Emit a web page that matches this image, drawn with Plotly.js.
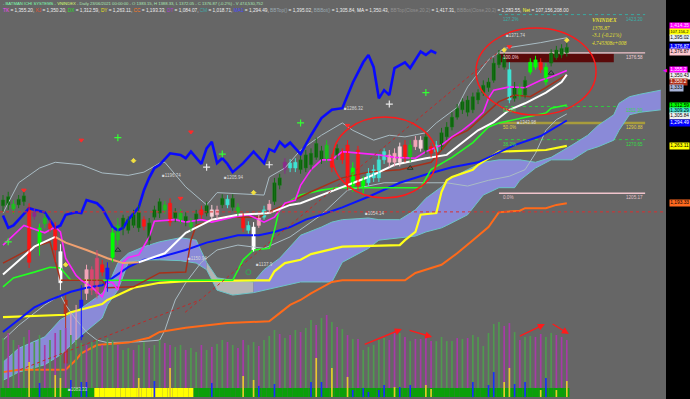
<!DOCTYPE html>
<html><head><meta charset="utf-8">
<script src="https://cdn.plot.ly/plotly-3.0.1.min.js"></script>
<style>html,body{margin:0;padding:0;background:#000;overflow:hidden}#chart{width:690px;height:399px}</style>
</head><body><div id="chart"></div>
<script>
// ---------------- DATA ----------------
const open = [1190,1191,1186,1191,1195,1188,1182,1142,1168,1168,
1165,1096,1075,1041,1030,1030,1083,1112,1083,1118,
1090,1127,1148,1163,1160,1166,1163,1173,1148,1176,
1181,1185,1193,1175,1173,1170,1164,1173,1185,1181,
1185,1185,1191,1191,1188,1182,1175,1160,1136,1175,
1176,1185,1195,1215,1243,1236,1236,1234,1236,1240,
1249,1246,1248,1248,1252,1256,1264,1214,1258,1212,
1218,1224,1224,1246,1252,1243,1243,1264,1249,1270,
1260,1258,1262,1256,1262,1274,1286,1298,1307,1304,
1307,1319,1328,1334,1343,1362,1359,1356,1321,1323,
1325,1353,1359,1365,1341,1364,1371,1374,1383.15];
const high = [1203,1207,1197,1203,1209,1193,1187,1168,1180,1173,
1170,1143,1081,1060,1069,1093,1118,1116,1136,1124,
1121,1163,1175,1179,1177,1185,1191,1177,1175,1190,
1199,1196,1199,1187,1186,1182,1175,1185,1190,1195,
1191,1190,1204,1203,1204,1193,1181,1171,1170,1180,
1190,1197,1224,1229,1248,1247,1248,1251,1258,1260,
1273,1263,1270,1253,1265,1260,1270,1243,1263,1226,
1236,1240,1252,1260,1258,1260,1267,1270,1270,1275,
1275,1280,1267,1269,1285,1292,1304,1314,1321,1324,
1328,1332,1343,1346,1370,1380,1376,1365,1341,1339,
1348,1370,1373,1370,1364,1381,1385,1387,1388.33];
const low = [1182,1185,1180,1187,1190,1114,1173,1129,1163,1158,
1121,1087,992,1032,1020,1026,1075,1081,1077,1104,
1085,1121,1142,1154,1156,1163,1158,1160,1142,1173,
1175,1180,1165,1170,1168,1165,1159,1168,1174,1177,
1173,1174,1187,1187,1184,1177,1158,1156,1134,1163,
1173,1180,1191,1210,1229,1231,1231,1229,1231,1234,
1246,1241,1243,1231,1246,1241,1209,1207,1209,1204,
1214,1219,1219,1241,1237,1238,1238,1243,1243,1258,
1256,1253,1249,1251,1258,1270,1282,1295,1302,1299,
1303,1314,1324,1329,1340,1358,1356,1315,1317,1319,
1321,1350,1356,1352,1337,1360,1368,1370,1372.05];
const close = [1197,1201,1192,1198,1202,1121,1177,1163,1175,1162,
1136,1134,998,1053,1059,1075,1112,1087,1126,1109,
1114,1157,1166,1175,1173,1179,1182,1165,1169,1185,
1195,1191,1170,1182,1181,1177,1170,1180,1179,1190,
1177,1179,1199,1198,1199,1188,1163,1166,1164,1166,
1185,1192,1218,1224,1234,1242,1243,1246,1252,1254,
1266,1257,1264,1237,1260,1246,1215,1236,1215,1221,
1230,1234,1246,1256,1243,1254,1262,1248,1264,1262,
1270,1274,1254,1264,1279,1286,1298,1309,1317,1319,
1323,1328,1337,1341,1364,1374,1371,1319,1335,1334,
1343,1365,1368,1356,1359,1376,1380,1382,1376.87];
// candle colour state per bar (system signal)
const candleState = ['D','D','G','D','D','R','M','B','G','R',
'R','W','K','P','P','U','P','S','S','R',
'U','B','G','D','D','D','D','R','D','D',
'D','G','R','D','G','D','G','D','R','D',
'L','P','D','C','D','G','R','C','W','P',
'C','P','D','D','M','C','C','D','D','D',
'D','D','G','R','D','R','R','B','R','B',
'C','C','C','C','P','P','L','R','G','P',
'L','D','R','C','D','D','D','D','D','D',
'D','D','D','D','D','D','D','C','D','G',
'D','B','B','R','B','D','D','D','D'];

// volume (millions)
const volume = [491,533,475,433,500,558,458,516,433,475,
533,558,575,516,475,450,433,458,475,433,
491,475,433,392,408,392,433,458,408,433,
475,450,433,417,433,392,408,375,433,392,
417,442,475,458,433,408,475,433,458,425,
475,508,558,525,491,516,558,541,575,641,
600,658,683,625,583,566,516,483,483,392,
417,433,475,491,475,533,533,500,466,483,
483,491,466,466,500,466,466,491,483,491,
516,500,425,533,608,625,591,616,541,475,
500,508,500,525,500,533,516,500,475];
const volumeState = ['g','m','g','m','g','m','g','g','m','g',
'm','g','m','g','g','g','m','g','g','m',
'g','g','m','g','g','m','g','g','m','g',
'g','m','m','g','g','m','g','g','m','g',
'm','g','g','m','g','m','m','g','g','m',
'g','g','g','m','g','m','g','m','g','g',
'm','g','m','g','m','g','m','g','m','g',
'g','g','g','g','m','m','g','m','g','m',
'm','m','m','g','g','g','g','m','g','m',
'g','g','g','g','g','g','m','m','g','m',
'g','g','m','m','g','g','m','m','m'];
const ribbonState = ['G','G','G','G','G','G','G','G','G','G',
'G','G','G','G','G','G','G','G','Y','Y',
'Y','Y','Y','Y','Y','Y','Y','Y','Y','Y',
'Y','Y','Y','Y','Y','Y','Y','G','G','G',
'G','G','G','G','G','G','G','G','G','G',
'G','G','G','G','G','G','G','G','G','G',
'G','G','G','G','G','G','G','G','G','G',
'G','G','G','G','G','G','G','G','G','G',
'G','G','G','G','G','G','G','G','G','G',
'G','G','G','G','G','G','G','G','G','G',
'G','G','G','G','G','G','G','G','G'];
const yellowIdx = [5,10,11,26,32,46,48,60,63,66,75,81,82,96,97,103,106,108];
const yellowVal = [292,183,158,158,242,175,142,325,242,167,83,100,67,125,242,58,58,133];
const blueIdx = [7,13,15,16,29,40,49,52,59,61,67,69,70,72,73,76,78,90,93,94,98,100,104];
const blueVal = [117,142,125,125,133,117,92,108,125,125,58,75,42,58,100,83,100,125,100,208,108,125,158];

// Ichimoku cloud (projected forward)
const cloudX = [0,3,8,11,15,19,20,22,24,27,30,34,37,39,41,44,48,50,53,57,61,63,65,70,72,76,79,81,84,85,89,92,95,98,99,102,105,109,112,114,117,118,120,122,126];
const cloudUpper = [999,1016,1030,1051,1065,1083,1091,1120,1132,1140,1146,1151,1148,1121,1102,1099,1097,1112,1126,1154,1164,1170,1173,1175,1173,1173,1185,1199,1213,1221,1234,1243,1246,1246,1246,1243,1249,1264,1276,1288,1301,1315,1323,1326,1331];
const cloudLower = [977,987,996,1008,1032,1053,1069,1087,1121,1124,1124,1123,1120,1112,1087,1081,1084,1087,1091,1097,1097,1097,1121,1138,1148,1151,1153,1158,1163,1166,1179,1203,1212,1212,1221,1236,1246,1246,1258,1262,1270,1282,1301,1304,1307];

// indicator lines
const chikouX = [0,1,2,5,6,8,10,11,12,14,15,16,18,19,21,22,23,24,26,27,28,29,30,32,34,35,36,38,39,40,41,42,43,44,46,48,50,51,52,53,54,55,57,59,61,63,65,67,69,70,71,72,73,74,75,77,78,80,81,82,83];
const chikouY = [1178,1163,1166,1187,1185,1182,1163,1166,1179,1182,1181,1197,1193,1187,1164,1160,1163,1173,1188,1209,1224,1236,1240,1254,1252,1248,1256,1241,1260,1268,1242,1248,1241,1231,1242,1256,1242,1259,1256,1268,1262,1267,1253,1276,1297,1307,1309,1340,1365,1374,1359,1321,1331,1325,1358,1365,1358,1378,1374,1379,1376];
const maX = [0,6,10,12,16,20,23,26,31,35,40,45,51,55,57,61,65,70,75,81,85,88,91,94,97,100,104,107,108];
const maY = [1106,1140,1152,1145,1136,1126,1120,1121,1132,1157,1173,1179,1181,1191,1193,1203,1213,1225,1240,1248,1252,1267,1282,1292,1307,1315,1328,1341,1350];
const maFallingFrom = 10, maFallingTo = 26;
const tkX = [0,4,8,10,11,12,14,15,17,19,20,21,22,23,24,26,28,29,33,35,38,40,44,47,50,52,54,56,57,59,61,63,65,68,72,75,79,81,84,86,88,90,92,93,94,97,100,103,105,108];
const tkY = [1142,1166,1157,1164,1158,1126,1105,1099,1091,1079,1097,1096,1087,1121,1127,1130,1152,1171,1173,1170,1173,1170,1176,1179,1170,1176,1193,1197,1215,1234,1246,1246,1256,1254,1252,1249,1248,1256,1264,1274,1282,1292,1304,1321,1331,1335,1334,1343,1347,1355];
const kjX = [0,6,9,10,11,19,20,25,30,35,36,37,42,49,55,59,65,70,76,82,86,89,95,98,101,104,108];
const kjY = [1120,1140,1146,1121,1099,1099,1090,1091,1108,1109,1148,1166,1176,1176,1195,1207,1224,1231,1234,1243,1273,1282,1317,1325,1323,1334,1350];
const dxX = [0,2,6,9,11,13,44,46,48,51,52,53,57,61,64,80,82,86,90,93,95,102,104,105,108];
const dxY = [1091,1102,1109,1115,1114,1099,1099,1124,1136,1138,1160,1188,1203,1209,1212,1212,1234,1249,1267,1286,1291,1301,1303,1309,1313];
const dyX = [0,12,13,19,20,25,30,35,51,52,54,57,59,65,76,77,79,80,83,84,85,86,90,91,94,95,104,108];
const dyY = [1054,1057,1060,1070,1075,1090,1096,1098,1099,1110,1120,1124,1131,1140,1142,1148,1158,1179,1181,1207,1221,1225,1234,1240,1252,1256,1258,1263];
const ccX = [0,3,12,14,15,18,24,28,30,35,43,47,51,53,55,57,59,63,65,77,79,84,87,90,93,95,99,100,104,106,108];
const ccY = [987,990,990,1002,1010,1020,1023,1029,1036,1041,1047,1048,1049,1059,1069,1075,1083,1097,1099,1099,1108,1118,1132,1148,1164,1182,1184,1187,1187,1191,1193];
const ma1X = [0,6,9,13,16,19,21,24,27,30,35,39,43,45,49,52,55,58,61,65,70,76,81,86,91,98,103,108];
const ma1Y = [1036,1066,1075,1085,1090,1093,1102,1115,1124,1127,1136,1145,1151,1154,1154,1158,1164,1173,1179,1188,1201,1218,1228,1237,1243,1264,1275,1294];
const bbTopX = [0,3,7,10,15,19,24,27,30,31,35,39,41,50,51,54,57,61,65,67,71,74,77,81,83,87,89,93,96,103,108];
const bbTopY = [1181,1218,1236,1243,1240,1230,1227,1231,1242,1243,1213,1191,1206,1203,1225,1236,1258,1276,1291,1282,1270,1276,1274,1279,1291,1310,1335,1368,1382,1389,1395];
const bbBotX = [0,3,8,11,12,14,16,18,20,26,30,31,32,33,35,38,41,45,50,55,61,66,73,79,85,89,93,97,100,102,104,106,108];
const bbBotY = [1026,1044,1069,1081,1069,1051,1036,1026,1023,1024,1026,1038,1057,1075,1096,1121,1136,1142,1138,1152,1179,1209,1218,1218,1218,1214,1221,1226,1234,1254,1282,1295,1302];

// levels
const refLevel = 1182.5;
const fibLow = 1205.17, fibHigh = 1376.58, fibStart = 95, fibEnd = 123;
const fibRatios = [0, 0.382, 0.5, 0.618, 1, 1.272];
const fibNames = ['0.0%','38.2%','50.0%','61.8%','100.0%','127.2%'];
const zoneStart = 95, zoneEnd = 117, zoneTop = 1375.5, zoneBottom = 1365;
const trendA = {x:[3.3,37.7], y:[990,1075]};
const trendB = {x:[34.9,94.6], y:[1060,1376]};

// markers
const greenPlusX=[1,22,42,57,81], greenPlusY=[1146,1273,1253,1291,1328];
const whitePlusX=[39,51,74], whitePlusY=[1237,1240,1314];
const redMarkX=[4,15,36,34,66,97], redMarkY=[1209,1270,1280,1199,1288,1384];
const yellowMarkX=[12,25,48,96,108], yellowMarkY=[1118,1245,1206,1380,1392];
const triMarkX=[22,78,105], triMarkY=[1136,1236,1352];
const ringMarkX=[47], ringMarkY=[1109];
const pointLabelX=[30,42,65,35,48,69,98,96,12];
const pointLabelY=[1227,1224,1309,1126,1118,1181,1291,1398,966];
const pointLabelText=['1196.74','1205.94','1286.32','1150.94','1137.9','1054.14','1343.98','1371.74','1083.33'];

// right axis value boxes
const boxLabels=['1,414.35','107,156,2','1,395.02','1,376.87','1,376.87','1,355.2','1,350.43','1,350.2','1,333','1,312.59','1,309.29','1,305.84','1,294.49','1,263.11','1,193.33'];

// ---------------- STYLE / BUILD ----------------
const FONT = 'Liberation Sans, Arial, sans-serif';
const N = open.length;
const idx = open.map((_, i) => i);
const candleColors = {D:'#0a5c0a',G:'#1fbf1f',B:'#00ff00',R:'#ff1515',P:'#f3a5b8',W:'#ffffff',C:'#3fe3d3',U:'#1515ff',K:'#b8321a',M:'#8c2a8c',S:'#d84870',L:'#f7d3da'};
const traces = [];

// cloud
function cloudSeg(lo, hi){
  const xs=[],u=[],l=[];
  cloudX.forEach((x,k)=>{ if(x>=lo && x<=hi){ xs.push(x); u.push(cloudUpper[k]); l.push(cloudLower[k]); } });
  return {xs,u,l};
}
[[0,39,'#8a8ad8'],[39,48,'#b4b4b4'],[48,999,'#8a8ad8']].forEach(([lo,hi,col])=>{
  const s = cloudSeg(lo,hi);
  traces.push({type:'scatter',mode:'lines',x:s.xs,y:s.l,line:{width:0},hoverinfo:'skip'});
  traces.push({type:'scatter',mode:'lines',x:s.xs,y:s.u,line:{width:0},fill:'tonexty',fillcolor:col,hoverinfo:'skip'});
});
traces.push({type:'scatter',mode:'lines',x:cloudX,y:cloudUpper,line:{color:'#6cc4c8',width:1}});
traces.push({type:'scatter',mode:'lines',x:cloudX,y:cloudLower,line:{color:'#6cc4c8',width:1}});

// volume
traces.push({type:'bar',x:idx,y:volume,yaxis:'y2',width:0.32,
  marker:{color:volumeState.map(s=>s==='g'?'#4f9a4f':'#a83aa8'),line:{width:0}}});
traces.push({type:'bar',x:idx,y:idx.map(()=>75),base:0,yaxis:'y2',width:1,
  marker:{color:ribbonState.map(s=>s==='G'?'#0aa00a':'#ffff00'),line:{width:0}}});
traces.push({type:'bar',x:yellowIdx,y:yellowVal,yaxis:'y2',width:0.32,marker:{color:'#e6cc2a',line:{width:0}}});
traces.push({type:'bar',x:blueIdx,y:blueVal,yaxis:'y2',width:0.32,marker:{color:'#1a2cff',line:{width:0}}});

// lines
function line(x,y,color,width,dash){ traces.push({type:'scatter',mode:'lines',x:x,y:y,line:{color:color,width:width,dash:dash||'solid'}}); }
line(bbBotX,bbBotY,'#a9bcc4',1);
line(bbTopX,bbTopY,'#a9bcc4',1);
line(ccX,ccY,'#ff6a1a',2);
line(dyX,dyY,'#ffff1a',2.2);
line(ma1X,ma1Y,'#0a14ff',2);
line(dxX,dxY,'#22ff22',1.6);
line(kjX,kjY,'#a8301a',1.5);
line(tkX,tkY,'#ff22ff',1.6);
// MA coloured by slope segments
const segA={x:[],y:[]},segB={x:[],y:[]},segC={x:[],y:[]};
maX.forEach((x,k)=>{
  if(x<=maFallingFrom){segA.x.push(x);segA.y.push(maY[k]);}
  if(x>=maFallingFrom && x<=maFallingTo){segB.x.push(x);segB.y.push(maY[k]);}
  if(x>=maFallingTo){segC.x.push(x);segC.y.push(maY[k]);}
});
line(segA.x,segA.y,'#ffffff',2);
line(segB.x,segB.y,'#f0a070',2);
line(segC.x,segC.y,'#ffffff',2);
line(chikouX,chikouY,'#0a0aff',2.6);

// candles
Object.keys(candleColors).forEach(code=>{
  const ids = idx.filter(i=>candleState[i]===code);
  if(!ids.length) return;
  const col = candleColors[code];
  const wx=[],wy=[];
  ids.forEach(i=>{ wx.push(i,i,null); wy.push(low[i],high[i],null); });
  traces.push({type:'scatter',mode:'lines',x:wx,y:wy,line:{color:code==='D'?'#137313':col,width:1}});
  traces.push({type:'bar',x:ids,base:ids.map(i=>Math.min(open[i],close[i])),
    y:ids.map(i=>Math.max(Math.abs(close[i]-open[i]),1)),width:0.64,
    marker:{color:col,line:{color:code==='D'?'#1d8a1d':col,width:0.5}}});
});

// markers
function marks(x,y,sym,color,size,lw){ traces.push({type:'scatter',mode:'markers',x:x,y:y,marker:{symbol:sym,color:color,size:size,line:{color:color,width:lw||1}}}); }
marks(greenPlusX,greenPlusY,'cross-thin','#33ff33',5,1.2);
marks(whitePlusX,whitePlusY,'cross-thin','#e8e8e8',5,1.2);
marks(redMarkX,redMarkY,'triangle-down','#ff2a2a',4);
marks(yellowMarkX,yellowMarkY,'diamond','#f2e040',3.5);
marks(triMarkX,triMarkY,'triangle-up-open','#1e3a2a',5,1);
marks(ringMarkX,ringMarkY,'circle-open','#33aa55',5,1);

// shapes
const shapes = [];
shapes.push({type:'rect',layer:'below',xref:'x',yref:'y',x0:zoneStart,x1:zoneEnd,y0:zoneBottom,y1:zoneTop,fillcolor:'#5a0a0a',line:{width:0}});
const fibColors=['#f0c4cc','#2ecc40','#a89c3c','#2ecc40','#f0c4cc','#3aa8a0'];
const fibDash=['solid','dot','solid','dot','solid','dot'];
const fibW=[1.5,1,2.5,1,1.2,1];
const fibLabelColors=['#e0c0c8','#33dd44','#e0d040','#33dd44','#f0d0d8','#3ab0a8'];
const annotations=[];
fibRatios.forEach((r,k)=>{
  const lvl = fibLow + r*(fibHigh-fibLow);
  shapes.push({type:'line',layer:'below',xref:'x',yref:'y',x0:fibStart,x1:fibEnd,y0:lvl,y1:lvl,line:{color:fibColors[k],width:fibW[k],dash:fibDash[k]}});
  annotations.push({xref:'x',yref:'y',x:fibStart+0.3,y:lvl,xanchor:'left',yanchor:'top',showarrow:false,text:fibNames[k],font:{family:FONT,size:4.6,color:fibLabelColors[k]}});
  annotations.push({xref:'x',yref:'y',x:fibEnd,y:lvl,xanchor:'right',yanchor:'top',showarrow:false,text:lvl.toFixed(2),font:{family:FONT,size:4.6,color:fibLabelColors[k]}});
});
shapes.push({type:'line',xref:'paper',yref:'y',x0:0,x1:1,y0:refLevel,y1:refLevel,line:{color:'#d83030',width:1,dash:'dot'}});
shapes.push({type:'line',xref:'x',yref:'y',x0:trendA.x[0],x1:trendA.x[1],y0:trendA.y[0],y1:trendA.y[1],line:{color:'#c02828',width:1,dash:'dot'}});
shapes.push({type:'line',xref:'x',yref:'y',x0:trendB.x[0],x1:trendB.x[1],y0:trendB.y[0],y1:trendB.y[1],line:{color:'#c02828',width:1,dash:'dot'}});
shapes.push({type:'circle',xref:'x',yref:'y',x0:63.2,x1:83.1,y0:1199.4,y1:1298.3,line:{color:'#ff1a1a',width:1.5}});
shapes.push({type:'circle',xref:'x',yref:'y',x0:90.6,x1:113.6,y0:1300.7,y1:1406.8,line:{color:'#ff1a1a',width:1.5}});

// volume arrows
[[69,433,76.4,566],[77.6,558,82.2,500],[98.7,500,103.8,608],[105,616,108.4,525]].forEach(a=>{
  annotations.push({xref:'x',yref:'y2',axref:'x',ayref:'y2',ax:a[0],ay:a[1],x:a[2],y:a[3],text:'',showarrow:true,arrowhead:2,arrowsize:1,arrowwidth:1.4,arrowcolor:'#ff1a1a'});
});

// point labels
pointLabelX.forEach((x,k)=>{
  annotations.push({xref:'x',yref:'y',x:x,y:pointLabelY[k],xanchor:'left',yanchor:'middle',showarrow:false,text:'\u25A0'+pointLabelText[k],font:{family:FONT,size:4.5,color:'#d6d6d6'}});
});

// header
const W=666, H=399;
const hdr1 = '<span style="color:#7dffb0">- BATMAN ICHI SYSTEMS - </span><span style="color:#d8ff70">VNINDEX</span> - Daily 23/06/2021 00:00:00 - O 1383.15, H 1388.33, L 1372.05 - C 1376.87 (-0.2%) - V 474,530,752';
const hdrParts = [['TK','#ff44ff','1,355.20'],['KJ','#e8502a','1,350.20'],['DX','#22e022','1,312.59'],['DY','#e8e020','1,263.11'],['CC','#ff7a22','1,193.33'],['DT','#b040d0','1,084.07'],['CM','#40a8a8','1,018.71'],['MA1','#4a4aff','1,294.49'],['BBTop()','#9aa8b0','1,395.02'],['BBBot()','#9aa8b0','1,305.84'],['MA','#ffffff','1,350.43'],['BBTop(Close,20,2)','#909090','1,417.31'],['BBBot(Close,20,2)','#909090','1,283.55'],['Net','#ffff30','107,156,208.00']];
const hdr2 = hdrParts.map(p=>'<span style="color:'+p[1]+'">'+p[0]+'</span> = '+p[2]).join(', ');
annotations.push({xref:'paper',yref:'paper',x:1/W,y:1-3.6/H,xanchor:'left',yanchor:'middle',showarrow:false,align:'left',text:hdr1,font:{family:FONT,size:4.2,color:'#a8e6b4'}});
annotations.push({xref:'paper',yref:'paper',x:1/W,y:1-10.2/H,xanchor:'left',yanchor:'middle',showarrow:false,align:'left',text:hdr2,font:{family:FONT,size:4.75,color:'#ececec'}});

// yellow info block
[['<b><i>VNINDEX</i></b>',20],['<i>1376.87</i>',28],['<i>-3.1 (-0.21%)</i>',35.5],['<i>4.745308e+008</i>',43]].forEach(t=>{
  annotations.push({xref:'paper',yref:'paper',x:590/W,y:1-t[1]/H,xanchor:'left',yanchor:'middle',showarrow:false,text:t[0],font:{family:'Liberation Serif, DejaVu Serif, serif',size:5.4,color:'#e8e030'}});
});

// right axis boxes
const boxYpx=[26,32.5,37.5,47,52.5,70.5,76,82,88,106,111,116.5,122.5,146,203];
const boxBg=['#ff00ff','#ffff00','#e8f0f8','#0000ff','#ffc8d0','#ff00ff','#f0f0f0','#b03018','#a8b4d8','#00ff00','#40e0d0','#f0f0f0','#0000ff','#ffff00','#ff6a20'];
const boxFg=['#ffe0ff','#000000','#000000','#ffffff','#000000','#ffffff','#000000','#ffffff','#000000','#000000','#000000','#000000','#ffffff','#000000','#000000'];
const boxSize=[4.8,4.1,4.8,4.8,4.8,4.8,4.8,4.8,4.8,4.8,4.8,4.8,4.8,4.8,4.8];
boxLabels.forEach((t,k)=>{
  annotations.push({xref:'paper',yref:'paper',x:669/W,y:1-boxYpx[k]/H,xanchor:'left',yanchor:'middle',showarrow:false,text:t,bgcolor:boxBg[k],borderpad:0.3,font:{family:FONT,size:boxSize[k],color:boxFg[k]}});
});
annotations.push({xref:'paper',yref:'paper',x:669/W,y:1-70.5/H,xanchor:'right',yanchor:'middle',showarrow:false,text:'\u25C0',font:{family:'DejaVu Sans',size:5,color:'#ff00ff'}});

const layout = {
  width:690,height:399,margin:{l:0,r:24,t:0,b:0,pad:0},
  paper_bgcolor:'#000000',plot_bgcolor:'#666666',
  showlegend:false,barmode:'overlay',hovermode:false,
  xaxis:{range:[-0.575,127.0],visible:false,fixedrange:true,rangeslider:{visible:false}},
  yaxis:{range:[954.2,1441.0],visible:false,fixedrange:true},
  yaxis2:{range:[-16.7,3307],overlaying:'y',visible:false,fixedrange:true},
  shapes:shapes,annotations:annotations
};
Plotly.newPlot('chart',traces,layout,{staticPlot:true,displayModeBar:false});
</script></body></html>
